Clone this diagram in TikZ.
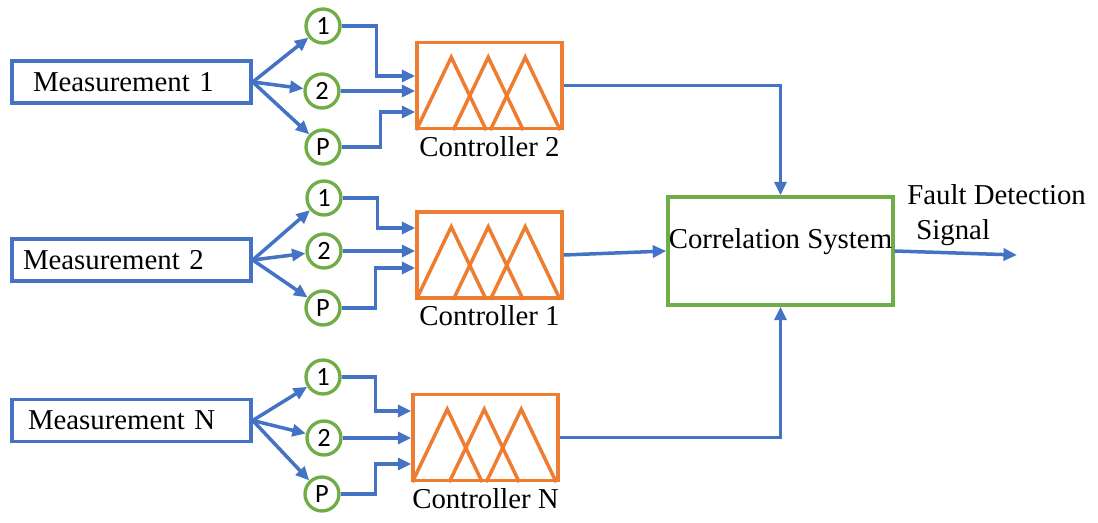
\documentclass[tikz,border=0pt]{standalone}
\usepackage{fontspec}
\setmainfont{Liberation Serif}
\newfontfamily\circfont{Carlito}
\usepackage{tikz}
\usetikzlibrary{arrows.meta}
\usetikzlibrary{calc}
\tikzset{>={Triangle[length=0.27cm,width=0.24cm]}}

\definecolor{flowblue}{HTML}{4472C4}
\definecolor{fuzzorange}{HTML}{ED7D31}
\definecolor{selgreen}{HTML}{70AD47}

\tikzset{
    measbox/.style={draw=flowblue, line width=2pt, rectangle, minimum width=4.78cm,
        minimum height=0.84cm, text width=4.14cm, inner xsep=0.32cm, align=left},
    ctrlbox/.style={draw=fuzzorange, line width=2pt, rectangle, inner sep=0,
        minimum width=2.9cm, minimum height=1.72cm},
    selnode/.style={draw=selgreen, line width=1.9pt, circle, inner sep=0,
        minimum size=0.68cm, font=\circfont\fontsize{15}{17}\selectfont},
    corrbox/.style={draw=selgreen, line width=2pt, rectangle, inner xsep=0,
        minimum width=4.5cm, minimum height=2.16cm, text depth=14.6pt},
    flow/.style={draw=flowblue, line width=2pt, ->},
    fuzzy/.style={draw=fuzzorange, line width=2pt, line join=miter},
}

\begin{document}
\begin{tikzpicture}[x=0.02cm, y=-0.02cm, font=\fontsize{16.4}{20}\selectfont]
    \useasboundingbox (0,0) rectangle (1098,523);

    % Measurements
    \node[measbox] (measA) at (131.5,82) {\hspace*{0.1cm}Measurement 1};
    \node[measbox] (measB) at (131.5,260) {\hspace*{-0.1cm}Measurement 2};
    \node[measbox] (measN) at (131.5,420.5) {Measurement N};

    % Selection circles
    \node[selnode] (a1) at (323,26) {1};
    \node[selnode] (a2) at (322,91) {2};
    \node[selnode] (aP) at (323,147) {P};

    \node[selnode] (b1) at (324,198) {1};
    \node[selnode] (b2) at (324,251) {2};
    \node[selnode] (bP) at (323,308) {P};

    \node[selnode] (n1) at (323,377) {1};
    \node[selnode] (n2) at (324,438) {2};
    \node[selnode] (nP) at (322,494) {P};

    % Fuzzy controllers
    \node[ctrlbox, label={below:Controller 2}] (ctrlA) at (489.5,85.5) {};
    \node[ctrlbox, label={below:Controller 1}] (ctrlB) at (489.5,255) {};
    \node[ctrlbox, label={below:Controller N}] (ctrlN) at (485.5,437.5) {};

    \foreach \c in {ctrlA,ctrlB,ctrlN}
        \foreach \i in {0,1,2}
            \draw[fuzzy] ($(\c.south west)+(1+37*\i,0)$) -- ($(\c.south west)+(36+37*\i,-73)$)
                -- ($(\c.south west)+(71+37*\i,0)$);

    % Correlation
    \node[corrbox] (corr) at (780.5,251) {Correlation System};
    \coordinate (sig) at (1017,255);
    \node[anchor=north west, inner sep=0, align=left] (faultlbl) at (907,184)
        {Fault Detection\\\hspace*{0.18cm}Signal};

    % Measurement to circles
    \foreach \m/\r in {measA/a,measB/b,measN/n}
        \foreach \k in {1,2,P}
            \draw[flow] (\m.east) -- (\r\k);

    % Circles to controllers
    \draw[flow] (a1.east) -| ($(ctrlA.west)+(-39,-9.5)$) -- ($(ctrlA.west)+(0,-9.5)$);
    \draw[flow] (a2.east) -- (a2.east -| ctrlA.west);
    \draw[flow] (aP.east) -| ($(ctrlA.west)+(-35,26.5)$) -- ($(ctrlA.west)+(0,26.5)$);

    \draw[flow] (b1.east) -| ($(ctrlB.west)+(-38,-27)$) -- ($(ctrlB.west)+(0,-27)$);
    \draw[flow] (b2.east) -- (b2.east -| ctrlB.west);
    \draw[flow] (bP.east) -| ($(ctrlB.west)+(-40,13)$) -- ($(ctrlB.west)+(0,13)$);

    \draw[flow] (n1.east) -| ($(ctrlN.west)+(-36,-26.5)$) -- ($(ctrlN.west)+(0,-26.5)$);
    \draw[flow] (n2.east) -- (n2.east -| ctrlN.west);
    \draw[flow] (nP.east) -| ($(ctrlN.west)+(-36,26.5)$) -- ($(ctrlN.west)+(0,26.5)$);

    % Controllers to correlation
    \draw[flow] (ctrlA.east) -| (corr.north);
    \draw[flow] (ctrlB.east) -- (corr.west);
    \draw[flow] (ctrlN.east) -| (corr.south);
    \draw[flow] (corr.east) -- (sig);
\end{tikzpicture}
\end{document}
